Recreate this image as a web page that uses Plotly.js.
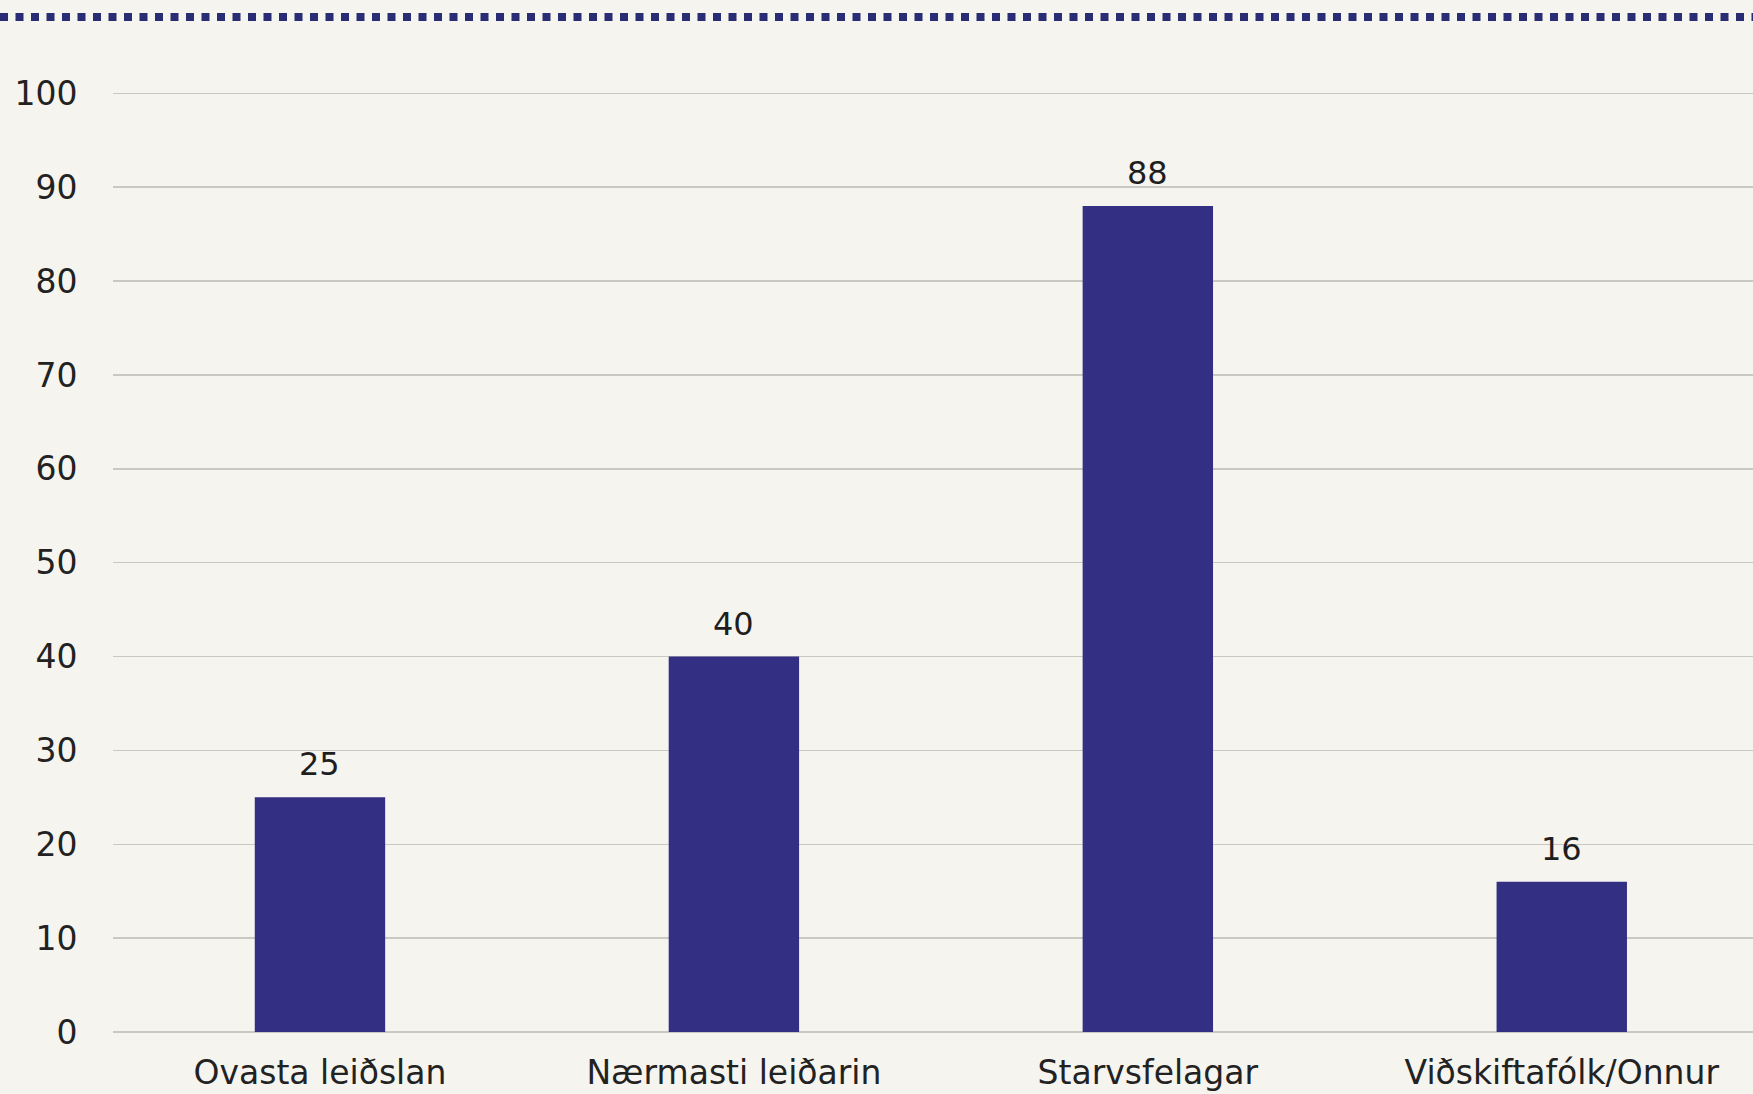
<!DOCTYPE html>
<html>
<head>
<meta charset="utf-8">
<script src="https://cdn.plot.ly/plotly-3.0.1.min.js"></script>
<style>html,body{margin:0;padding:0;background:#f5f4ef;}#chart{width:1753px;height:1094px;}</style>
</head>
<body>
<div id="chart"></div>
<script>
const categories = ["Ovasta leiðslan", "Nærmasti leiðarin", "Starvsfelagar", "Viðskiftafólk/Onnur"];
const values = [25, 40, 88, 16];
const valueLabels = ["25", "40", "88", "16"];
const yTicks = [0, 10, 20, 30, 40, 50, 60, 70, 80, 90, 100];

const font = "DejaVu Sans, Verdana, sans-serif";
const trace = {
  type: "bar",
  x: categories,
  y: values,
  marker: {color: "#332f82", line: {width: 0}},
  hoverinfo: "skip"
};
const annotations = categories.map((c, i) => ({
  x: c, y: values[i], xref: "x", yref: "y",
  text: valueLabels[i], showarrow: false,
  yanchor: "bottom", yshift: 12,
  font: {family: font, size: 32, color: "#1e1e1e"}
}));
const layout = {
  width: 1753, height: 1094,
  margin: {l: 113, r: 0, t: 91, b: 62},
  paper_bgcolor: "#f5f4ef",
  plot_bgcolor: "#f5f4ef",
  bargap: 0.685,
  showlegend: false,
  font: {family: font, color: "#222222"},
  xaxis: {
    type: "category",
    range: [-0.5, 3.462],
    showgrid: false, showline: false, zeroline: false,
    ticks: "outside", ticklen: 11, tickcolor: "rgba(0,0,0,0)",
    tickfont: {family: font, size: 33, color: "#222222"},
    fixedrange: true
  },
  yaxis: {
    range: [0, 100.25],
    tickvals: yTicks,
    ticktext: yTicks.map(String),
    showgrid: true, gridcolor: "#c9c8c3", gridwidth: 1.5,
    zeroline: true, zerolinecolor: "#c9c8c3", zerolinewidth: 1.5,
    showline: false,
    ticks: "outside", ticklen: 28, tickcolor: "rgba(0,0,0,0)",
    tickfont: {family: font, size: 33, color: "#222222"},
    fixedrange: true
  },
  annotations: annotations,
  shapes: [{
    type: "line", xref: "paper", yref: "paper",
    x0: -113/1640, x1: 1, y0: 1 + 74/941, y1: 1 + 74/941,
    line: {color: "#2b2d74", width: 8, dash: "8px,7.5px"}
  }]
};
Plotly.newPlot("chart", [trace], layout, {displayModeBar: false, staticPlot: true});
</script>
</body>
</html>
